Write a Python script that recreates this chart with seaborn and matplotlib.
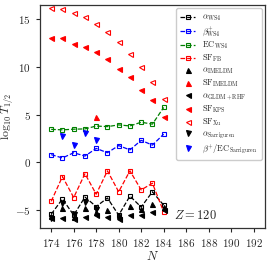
import numpy as np
import pandas as pd
import seaborn as sns
import matplotlib
matplotlib.use("Agg")
import matplotlib.pyplot as plt

N = [174, 175, 176, 177, 178, 179, 180, 181, 182, 183, 184]
alpha_ws4 = [-5.45, -3.85, -5.55, -3.65, -4.65, -3.75, -5.55, -3.55, -4.7, -3.1, -4.5]
beta_ws4 = [0.8, 0.45, 1.0, 0.65, 1.45, 1.0, 1.75, 1.3, 2.3, 1.8, 2.95]
ec_ws4 = [3.45, 3.4, 3.47, 3.5, 3.8, 3.74, 3.92, 3.81, 4.2, 4.0, 5.75]
sf_fb = [-4.1, -1.5, -3.7, -1.2, -3.35, -0.9, -3.1, -0.9, -2.9, -2.2, -5.2]
alpha_imeldm = [-5.6, -4.8, -5.7, -4.75, -5.2, -5.0, -5.55, -4.6, -4.95, -4.35, -4.7]
N_sf_imeldm = [178]
sf_imeldm = [4.75]
alpha_gldm = [-5.9, -5.85, -6.0, -5.7, -5.5, -5.7, -6.0, -5.5, -5.5, -5.2, -5.0]
sf_kps = [13.0, 13.05, 12.45, 12.1, 11.55, 10.85, 9.8, 8.95, 7.6, 6.5, 4.8]
sf_xu = [16.2, 16.1, 15.7, 15.2, 14.5, 13.65, 12.6, 11.4, 9.95, 8.45, 6.6]
N_sarr = [174, 175, 176, 177, 178]
alpha_sarr = [-5.8, -4.3, -5.45, -4.2, -4.9]
N_bec_sarr = [175, 176, 177, 178]
bec_sarr = [2.75, 1.8, 3.05, 2.35]

sns.set_style("ticks")
plt.rcParams["font.family"] = ["serif"]
plt.rcParams["font.serif"] = ["cmr10", "DejaVu Serif"]
plt.rcParams["mathtext.fontset"] = "cm"
plt.rcParams["axes.formatter.use_mathtext"] = True
plt.rcParams["axes.unicode_minus"] = True

fig = plt.figure(figsize=(2.7, 2.63), dpi=100)
ax = fig.add_axes([0.148, 0.133, 0.833, 0.848])

# dashed series with open squares
lines = [
    (alpha_ws4, "black", r"$\alpha_{\rm WS4}$"),
    (beta_ws4, "blue", r"$\beta^{+}_{\rm WS4}$"),
    (ec_ws4, "green", r"${\rm EC}_{\rm WS4}$"),
    (sf_fb, "red", r"${\rm SF}_{\rm FB}$"),
]
for vals, col, lab in lines:
    sns.lineplot(x=N, y=vals, ax=ax, color=col, linestyle="--", linewidth=0.9,
                 marker="s", markersize=3.2, markerfacecolor="none",
                 markeredgecolor=col, markeredgewidth=0.8, label=lab)

# marker-only series
points = [
    (N, alpha_imeldm, "^", "black", True, r"$\alpha_{\rm IMELDM}$"),
    (N_sf_imeldm, sf_imeldm, "^", "red", True, r"${\rm SF}_{\rm IMELDM}$"),
    (N, alpha_gldm, "<", "black", True, r"$\alpha_{\rm GLDM+RHF}$"),
    (N, sf_kps, "<", "red", True, r"${\rm SF}_{\rm KPS}$"),
    (N, sf_xu, "<", "red", False, r"${\rm SF}_{\rm Xu}$"),
    (N_sarr, alpha_sarr, "v", "black", True, r"$\alpha_{\rm Sarriguren}$"),
    (N_bec_sarr, bec_sarr, "v", "blue", True, r"$\beta^{+}/{\rm EC}_{\rm Sarriguren}$"),
]
for xs, vals, mk, col, filled, lab in points:
    sns.lineplot(x=xs, y=vals, ax=ax, color=col, linestyle="", marker=mk,
                 markersize=3.6, markerfacecolor=col if filled else "none",
                 markeredgecolor=col, markeredgewidth=0.8, label=lab)

ax.set_xlim(173, 193)
ax.set_ylim(-6.9, 16.5)
ax.set_xticks(np.arange(174, 193, 2))
ax.set_yticks([-5, 0, 5, 10, 15])
ax.tick_params(labelsize=8, length=3, width=0.8, direction="out")
for sp in ax.spines.values():
    sp.set_linewidth(0.9)
    sp.set_color("#333333")

ax.set_xlabel(r"$N$", fontsize=9, labelpad=1)
ax.set_ylabel(r"$\log_{10}T_{1/2}$", fontsize=8.5, labelpad=0)
ax.text(186.8, -5.6, r"$Z=120$", fontsize=9, ha="center", va="center")

ax.legend(loc="upper right", fontsize=6, frameon=True, labelspacing=0.2,
          handlelength=1.8, borderpad=0.5, borderaxespad=0.4, handletextpad=0.8,
          edgecolor="#cccccc", fancybox=True, framealpha=1)

fig.savefig("out.png", dpi=100)
